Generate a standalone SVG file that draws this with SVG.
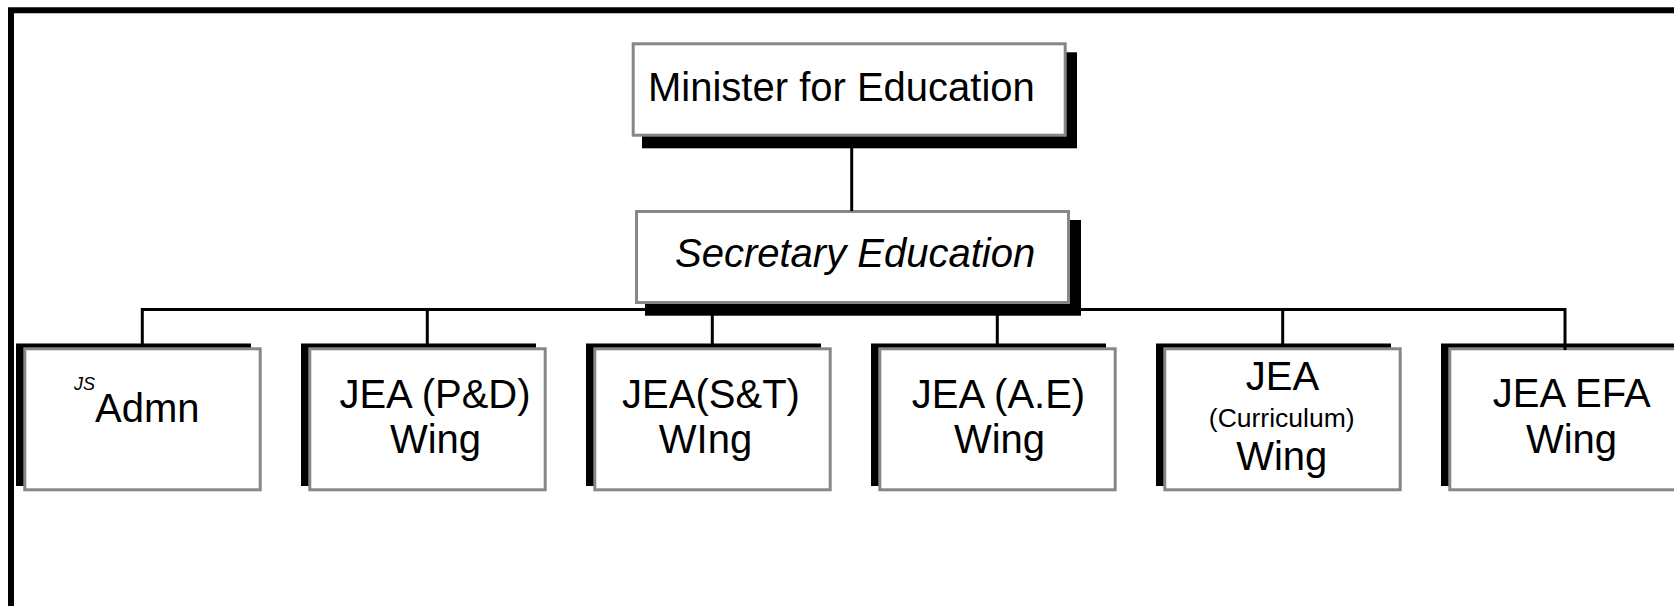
<svg xmlns="http://www.w3.org/2000/svg" width="1674" height="606" viewBox="0 0 1674 606">
  <style>
    .frame { stroke: #000; stroke-width: 6; fill: none; }
    .shadow { fill: #000; }
    .box { fill: #fff; stroke: #878787; stroke-width: 3; }
    .lbl { font-family: "Liberation Sans", Arial, sans-serif; font-size: 40px; fill: #000; }
    .it { font-style: italic; }
    .small { font-size: 26.5px; }
    .sup { font-size: 18px; font-style: italic; }
    .wire { stroke: #000; stroke-width: 3; fill: none; stroke-linejoin: miter; stroke-linecap: butt; }
  </style>
  <rect width="1674" height="606" fill="#fff"/>

  <!-- page frame (open on the right and bottom) -->
  <path class="frame" d="M11,606 V10.3 H1674"/>

  <!-- top level -->
  <g id="minister">
    <rect class="shadow" x="642" y="52.3" width="435" height="96"/>
    <rect class="box" x="633.2" y="43.8" width="432" height="91.4"/>
    <text class="lbl" x="648" y="101">Minister for Education</text>
  </g>

  <g id="secretary">
    <rect class="shadow" x="645" y="220" width="436" height="95.7"/>
    <rect class="box" x="636.5" y="211.5" width="432" height="91"/>
    <text class="lbl it" x="675" y="266.5">Secretary Education</text>
  </g>

  <!-- wings (shadow sits to the upper left) -->
  <g id="wing-admn">
    <rect class="shadow" x="16" y="343.5" width="235" height="142.5"/>
    <rect class="box" x="24.8" y="348.8" width="235.4" height="141"/>
    <text class="lbl sup" x="74" y="390">JS</text>
    <text class="lbl" x="95" y="421.7">Admn</text>
  </g>

  <g id="wing-pd">
    <rect class="shadow" x="301" y="343.5" width="235" height="142.5"/>
    <rect class="box" x="309.8" y="348.8" width="235.4" height="141"/>
    <text class="lbl" text-anchor="middle" x="435" y="407.5">JEA (P&amp;D)</text>
    <text class="lbl" text-anchor="middle" x="435.5" y="452.5">Wing</text>
  </g>

  <g id="wing-st">
    <rect class="shadow" x="586" y="343.5" width="235" height="142.5"/>
    <rect class="box" x="594.8" y="348.8" width="235.4" height="141"/>
    <text class="lbl" text-anchor="middle" x="711" y="407.5">JEA(S&amp;T)</text>
    <text class="lbl" text-anchor="middle" x="705.5" y="452.5">WIng</text>
  </g>

  <g id="wing-ae">
    <rect class="shadow" x="871" y="343.5" width="235" height="142.5"/>
    <rect class="box" x="879.8" y="348.8" width="235.4" height="141"/>
    <text class="lbl" text-anchor="middle" x="998.5" y="407.5">JEA (A.E)</text>
    <text class="lbl" text-anchor="middle" x="999.5" y="452.5">Wing</text>
  </g>

  <g id="wing-curriculum">
    <rect class="shadow" x="1156" y="343.5" width="235" height="142.5"/>
    <rect class="box" x="1164.8" y="348.8" width="235.4" height="141"/>
    <text class="lbl" text-anchor="middle" x="1282.5" y="390">JEA</text>
    <text class="lbl small" text-anchor="middle" x="1281.7" y="426.7">(Curriculum)</text>
    <text class="lbl" text-anchor="middle" x="1281.7" y="470">Wing</text>
  </g>

  <g id="wing-efa">
    <rect class="shadow" x="1441" y="343.5" width="235" height="142.5"/>
    <rect class="box" x="1449.8" y="348.8" width="235.4" height="141"/>
    <text class="lbl" text-anchor="middle" x="1571.7" y="406.7">JEA EFA</text>
    <text class="lbl" text-anchor="middle" x="1571.5" y="452.7">Wing</text>
  </g>

  <!-- reporting lines -->
  <g id="connectors">
    <line class="wire" x1="851.7" y1="148" x2="851.7" y2="211"/>
    <path class="wire" d="M142.3,344 V309.5 H1565 V350"/>
    <line class="wire" x1="427.3" y1="309.5" x2="427.3" y2="344"/>
    <line class="wire" x1="712.3" y1="309.5" x2="712.3" y2="344"/>
    <line class="wire" x1="997.3" y1="309.5" x2="997.3" y2="344"/>
    <line class="wire" x1="1282.7" y1="309.5" x2="1282.7" y2="344"/>
  </g>
</svg>
